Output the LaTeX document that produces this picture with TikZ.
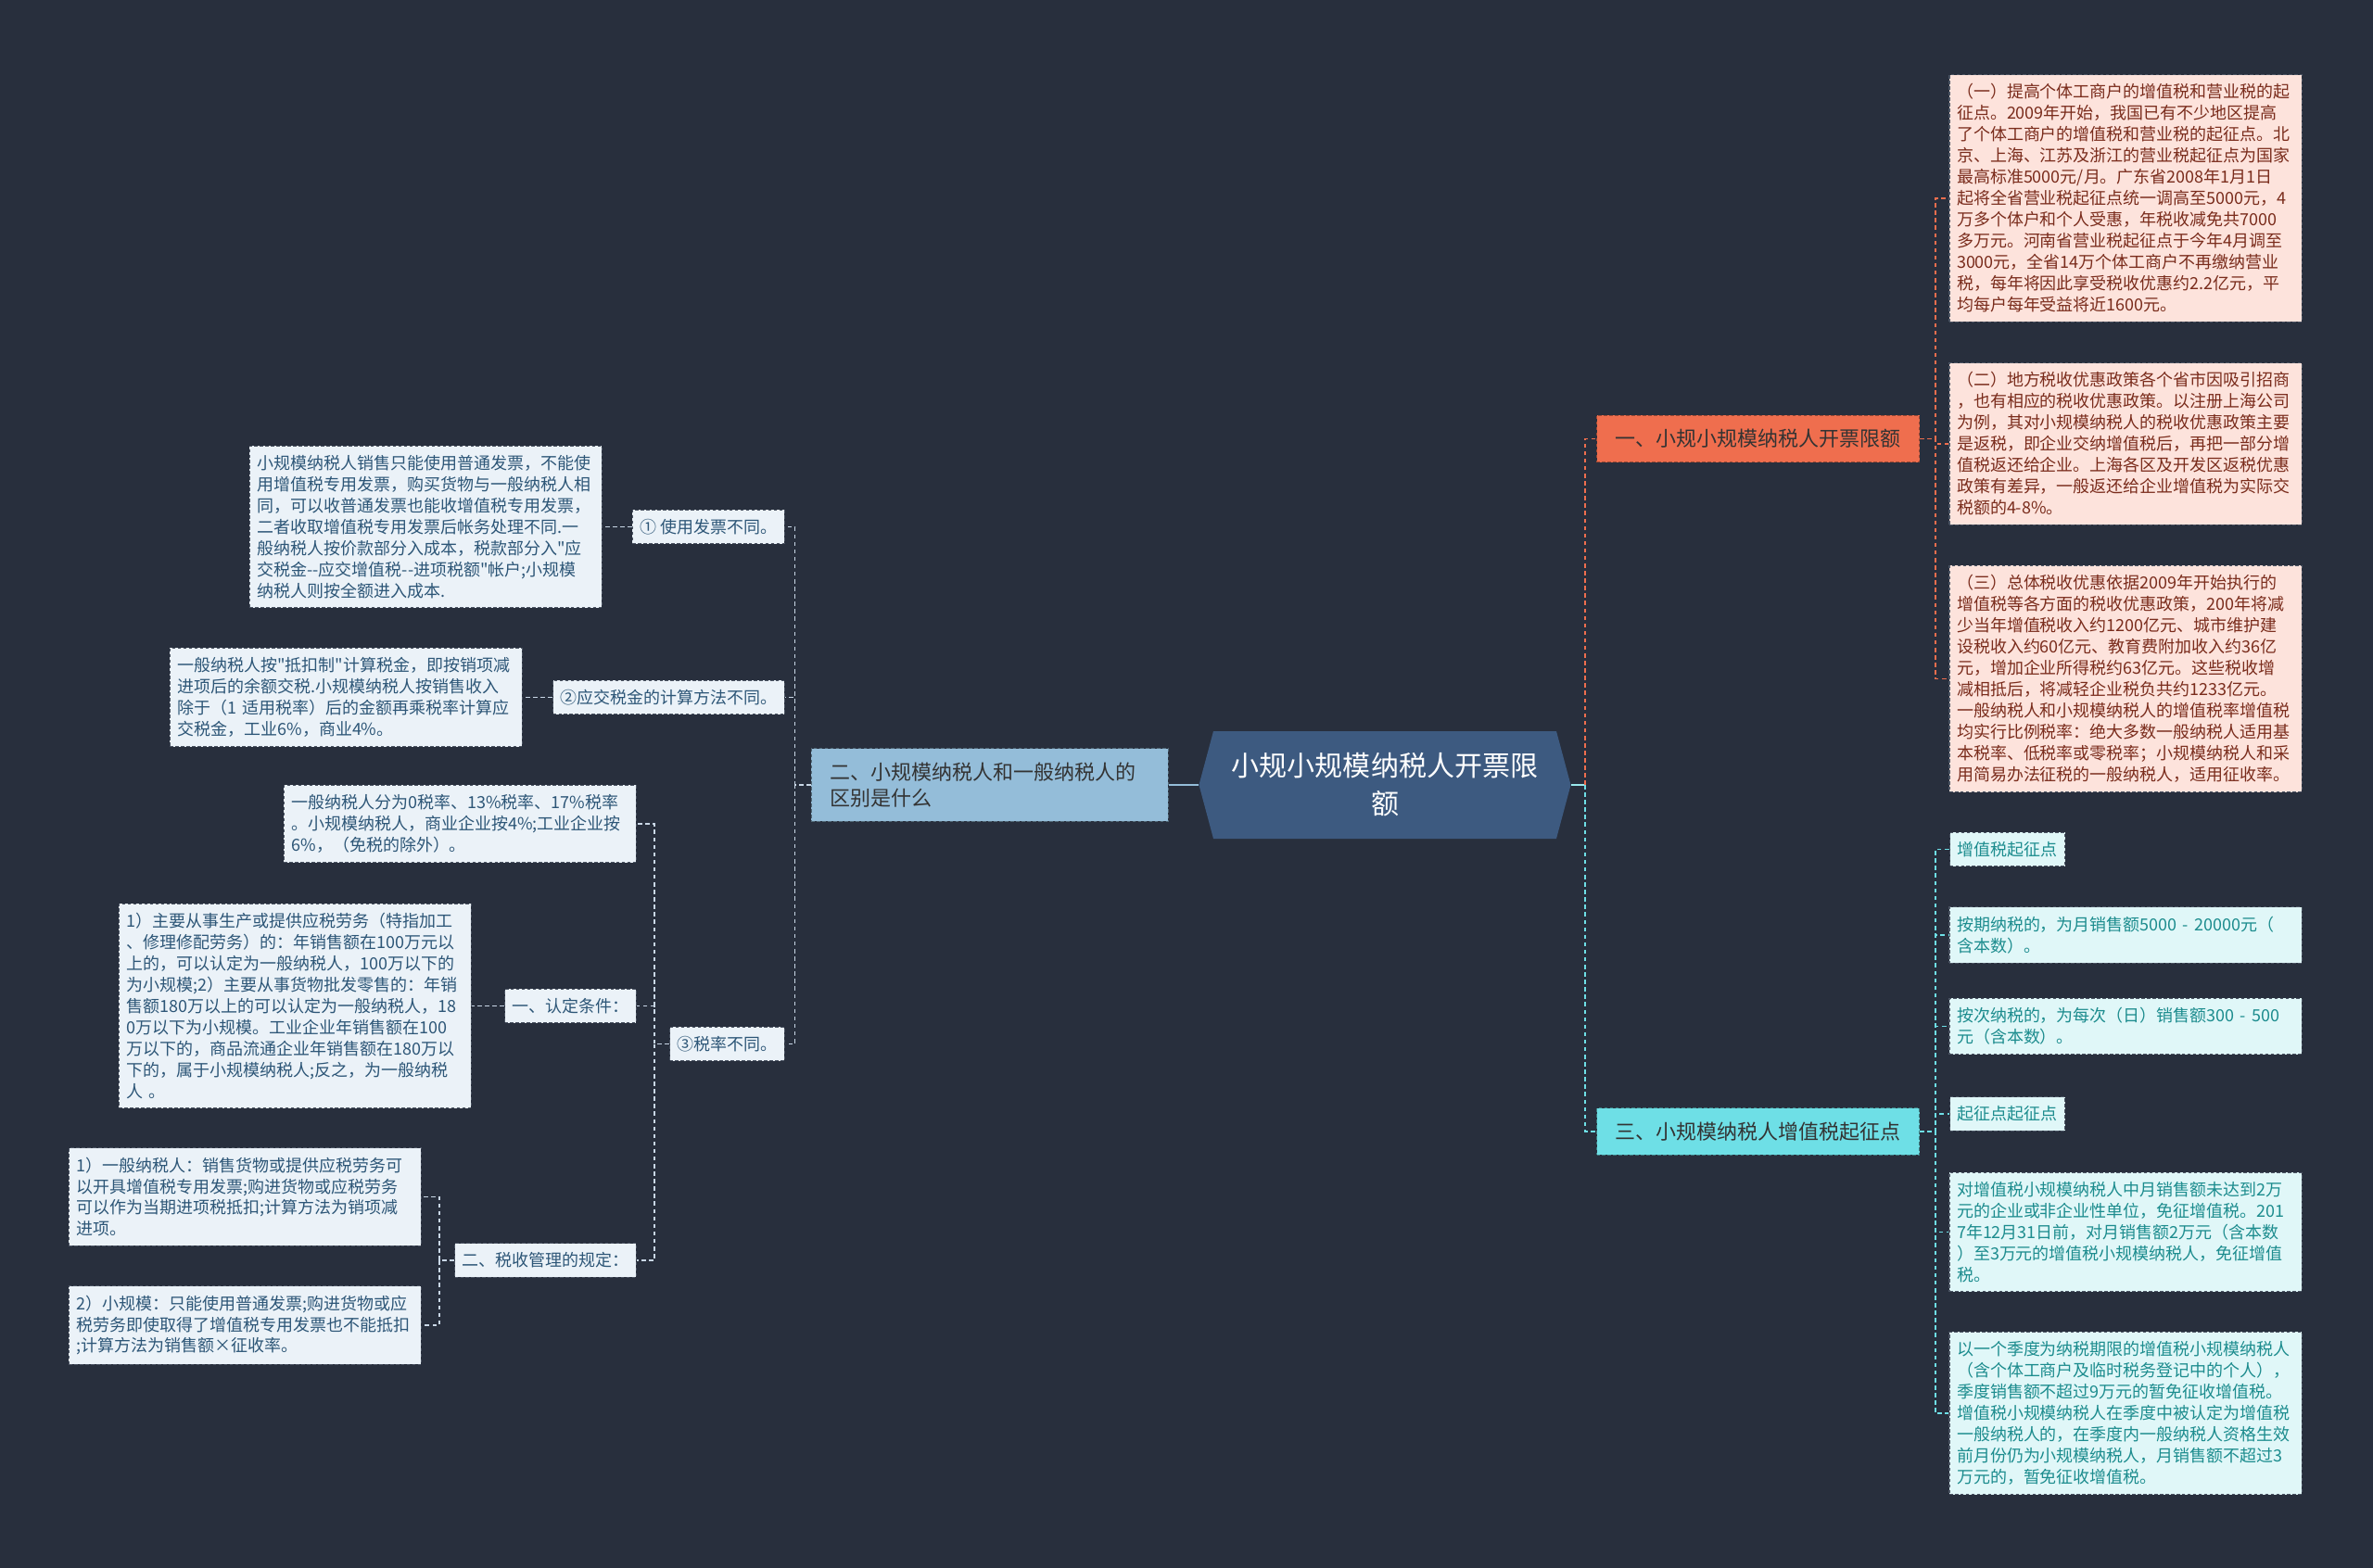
\documentclass[tikz,border=0pt]{standalone}
\usepackage{fontspec}
\setmainfont{Noto Sans CJK SC}[Ligatures=TeXOff]
\usepackage{xcolor}
\usepackage{tikz}
\usetikzlibrary{shapes,arrows.meta,positioning}

\definecolor{bgcol}{HTML}{282F3D}
\definecolor{rootcol}{HTML}{3D5A80}
\definecolor{orangecol}{HTML}{EF6E4E}
\definecolor{orangeleaf}{HTML}{FDE3DC}
\definecolor{orangetxt}{HTML}{7A2C1C}
\definecolor{cyancol}{HTML}{6EDFE6}
\definecolor{cyanleaf}{HTML}{E0F7F8}
\definecolor{cyantxt}{HTML}{1C8C8E}
\definecolor{bluecol}{HTML}{94BDD9}
\definecolor{blueleaf}{HTML}{EBF2F8}
\definecolor{bluetxt}{HTML}{2D5677}
\definecolor{linecol}{HTML}{C9D7E6}
\definecolor{edgecol}{HTML}{4B5463}

\begin{document}
\begin{tikzpicture}[node distance=0.32cm, every node/.style={font=\fontsize{5.12pt}{6.54pt}\selectfont}]
        \tikzstyle{leaf} = [rectangle, draw=edgecol, dash pattern=on 1pt off 0.7pt, line width=0.3pt,
            align=left, inner xsep=0.08cm, inner ysep=0.1cm]
        \tikzstyle{wide} = [text width=3.64cm]
        \tikzstyle{rleaf} = [leaf, wide, fill=orangeleaf, text=orangetxt]
        \tikzstyle{cleaf} = [leaf, fill=cyanleaf, text=cyantxt]
        \tikzstyle{lleaf} = [leaf, fill=blueleaf, text=bluetxt]
        \tikzstyle{branch} = [rectangle, dash pattern=on 1pt off 0.7pt, line width=0.3pt, align=left,
            inner xsep=0.2cm, inner ysep=0.15cm, text=black!80, font=\fontsize{6.26pt}{8pt}\selectfont]
        \tikzstyle{oline} = [draw=orangecol, line width=0.45pt, dash pattern=on 1.3pt off 1pt]
        \tikzstyle{cline} = [draw=cyancol, line width=0.45pt, dash pattern=on 1.3pt off 1pt]
        \tikzstyle{lline} = [draw=linecol, line width=0.45pt, dash pattern=on 1.3pt off 1pt]

        \fill[bgcol] (0,0) rectangle (25.6,-16.92);
        \useasboundingbox (0,0) rectangle (25.6,-16.92);

        \node (root) [signal, signal to=east and west, signal pointer angle=150, fill=rootcol, text=white,
            text width=3.5cm, align=center, inner sep=0.1cm, minimum height=1.16cm,
            font=\fontsize{8.54pt}{11.7pt}\selectfont] at (14.94,-8.47) {小规小规模纳税人开票限\\额};

        \node (lim) [branch, fill=orangecol, draw=orangecol!65!black] at (18.965,-4.735) {一、小规小规模纳税人开票限额};
        \node (start) [branch, fill=cyancol, draw=cyancol!55!black] at (18.965,-12.21) {三、小规模纳税人增值税起征点};
        \node (diff) [branch, fill=bluecol, draw=bluecol!55!black, text width=3.45cm, left=of root] {二、小规模纳税人和一般纳税人的\\区别是什么};

        \node (pol1) [rleaf] at (22.93,-2.14) {（一）提高个体工商户的增值税和营业税的起\\征点。2009年开始，我国已有不少地区提高\\了个体工商户的增值税和营业税的起征点。北\\京、上海、江苏及浙江的营业税起征点为国家\\最高标准5000元/月。广东省2008年1月1日\\起将全省营业税起征点统一调高至5000元，4\\万多个体户和个人受惠，年税收减免共7000\\多万元。河南省营业税起征点于今年4月调至\\3000元，全省14万个体工商户不再缴纳营业\\税，每年将因此享受税收优惠约2.2亿元，平\\均每户每年受益将近1600元。};
        \node (pol2) [rleaf] at (22.93,-4.79) {（二）地方税收优惠政策各个省市因吸引招商\\，也有相应的税收优惠政策。以注册上海公司\\为例，其对小规模纳税人的税收优惠政策主要\\是返税，即企业交纳增值税后，再把一部分增\\值税返还给企业。上海各区及开发区返税优惠\\政策有差异，一般返还给企业增值税为实际交\\税额的4-8\%。};
        \node (pol3) [rleaf] at (22.93,-7.325) {（三）总体税收优惠依据2009年开始执行的\\增值税等各方面的税收优惠政策，200年将减\\少当年增值税收入约1200亿元、城市维护建\\设税收入约60亿元、教育费附加收入约36亿\\元，增加企业所得税约63亿元。这些税收增\\减相抵后，将减轻企业税负共约1233亿元。\\一般纳税人和小规模纳税人的增值税率增值税\\均实行比例税率：绝大多数一般纳税人适用基\\本税率、低税率或零税率；小规模纳税人和采\\用简易办法征税的一般纳税人，适用征收率。};

        \node (vat) [cleaf, anchor=west] at (21.03,-9.165) {增值税起征点};
        \node (period) [cleaf, wide] at (22.93,-10.09) {按期纳税的，为月销售额5000 - 20000元（\\含本数）。};
        \node (times) [cleaf, wide] at (22.93,-11.075) {按次纳税的，为每次（日）销售额300 - 500\\元（含本数）。};
        \node (point) [cleaf, anchor=west] at (21.03,-12.02) {起征点起征点};
        \node (month) [cleaf, wide] at (22.93,-13.295) {对增值税小规模纳税人中月销售额未达到2万\\元的企业或非企业性单位，免征增值税。201\\7年12月31日前，对月销售额2万元（含本数\\）至3万元的增值税小规模纳税人，免征增值\\税。};
        \node (quarter) [cleaf, wide] at (22.93,-15.25) {以一个季度为纳税期限的增值税小规模纳税人\\（含个体工商户及临时税务登记中的个人），\\季度销售额不超过9万元的暂免征收增值税。\\增值税小规模纳税人在季度中被认定为增值税\\一般纳税人的，在季度内一般纳税人资格生效\\前月份仍为小规模纳税人，月销售额不超过3\\万元的，暂免征收增值税。};

        \node (inv) [lleaf, anchor=east] at (8.47,-5.685) {① 使用发票不同。};
        \node (calc) [lleaf, anchor=east] at (8.47,-7.525) {②应交税金的计算方法不同。};
        \node (rate) [lleaf, anchor=east] at (8.47,-11.265) {③税率不同。};
        \node (invtxt) [lleaf, wide, left=of inv] {小规模纳税人销售只能使用普通发票，不能使\\用增值税专用发票，购买货物与一般纳税人相\\同，可以收普通发票也能收增值税专用发票，\\二者收取增值税专用发票后帐务处理不同.一\\般纳税人按价款部分入成本，税款部分入"应\\交税金--应交增值税--进项税额"帐户;小规模\\纳税人则按全额进入成本.};
        \node (calctxt) [lleaf, wide, left=of calc] {一般纳税人按"抵扣制"计算税金，即按销项减\\进项后的余额交税.小规模纳税人按销售收入\\除于（1 适用税率）后的金额再乘税率计算应\\交税金，工业6\%，商业4\%。};

        \node (ratetxt) [lleaf, wide, anchor=east] at (6.87,-8.89) {一般纳税人分为0税率、13\%税率、17\%税率\\。小规模纳税人，商业企业按4\%;工业企业按\\6\%，（免税的除外）。};
        \node (cond) [lleaf, anchor=east] at (6.87,-10.855) {一、认定条件：};
        \node (rule) [lleaf, anchor=east] at (6.87,-13.6) {二、税收管理的规定：};
        \node (condtxt) [lleaf, wide, left=0.35cm of cond] {1）主要从事生产或提供应税劳务（特指加工\\、修理修配劳务）的：年销售额在100万元以\\上的，可以认定为一般纳税人，100万以下的\\为小规模;2）主要从事货物批发零售的：年销\\售额180万以上的可以认定为一般纳税人，18\\0万以下为小规模。工业企业年销售额在100\\万以下的，商品流通企业年销售额在180万以\\下的，属于小规模纳税人;反之，为一般纳税\\人 。};
        \node (gen) [lleaf, wide, anchor=east] at (4.55,-12.915) {1）一般纳税人：销售货物或提供应税劳务可\\以开具增值税专用发票;购进货物或应税劳务\\可以作为当期进项税抵扣;计算方法为销项减\\进项。};
        \node (small) [lleaf, wide, anchor=east] at (4.55,-14.3) {2）小规模：只能使用普通发票;购进货物或应\\税劳务即使取得了增值税专用发票也不能抵扣\\;计算方法为销售额×征收率。};

        \draw [draw=cyancol!70!white, line width=0.6pt] (root.east) -- ++(0.15,0) coordinate (rj);
        \draw [oline] (rj) |- (lim.west);
        \draw [cline] (rj) |- (start.west);
        \draw [draw=bluecol, line width=0.6pt] (root.west) -- (diff.east);

        \foreach \n in {pol1,pol2,pol3}
            \draw [oline] (lim.east) -- ++(0.17,0) |- (\n.west);
        \foreach \n in {vat,period,times,point,month,quarter}
            \draw [cline] (start.east) -- ++(0.17,0) |- (\n.west);

        \foreach \n in {inv,calc,rate}
            \draw [lline] (diff.west) -- ++(-0.17,0) |- (\n.east);
        \draw [lline] (inv.west) -- (invtxt.east);
        \draw [lline] (calc.west) -- (calctxt.east);
        \foreach \n in {ratetxt,cond,rule}
            \draw [lline] (rate.west) -- ++(-0.16,0) |- (\n.east);
        \draw [lline] (cond.west) -- (condtxt.east);
        \foreach \n in {gen,small}
            \draw [lline] (rule.west) -- ++(-0.16,0) |- (\n.east);
    \end{tikzpicture}
\end{document}
